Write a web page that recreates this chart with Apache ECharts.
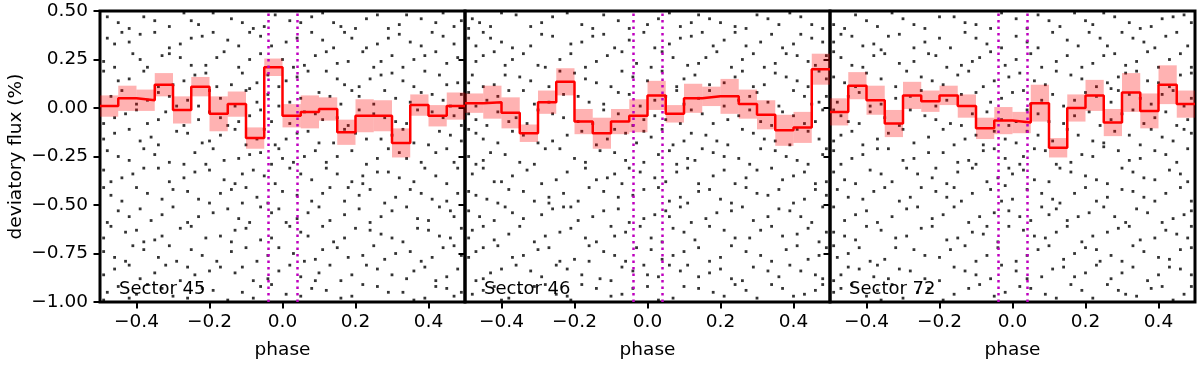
<!DOCTYPE html>
<html>
<head>
<meta charset="utf-8">
<script src="https://cdn.jsdelivr.net/npm/echarts@6/dist/echarts.min.js"></script>
<style>
  html, body { margin: 0; padding: 0; background: #fff; }
  #chart { width: 1200px; height: 365px; }
</style>
</head>
<body>
<div id="chart"></div>
<script>
// binned phase centres (20 bins of 0.05)
const phaseBins = [-0.475, -0.425, -0.375, -0.325, -0.275, -0.225, -0.175, -0.125, -0.075, -0.025,
  0.025, 0.075, 0.125, 0.175, 0.225, 0.275, 0.325, 0.375, 0.425, 0.475];

const sector45Flux = [0.01, 0.05, 0.04, 0.12, -0.01, 0.11, -0.03, 0.02, -0.155, 0.21,
  -0.04, -0.02, -0.005, -0.125, -0.04, -0.04, -0.18, 0.015, -0.04, 0.01];
const sector45Err = [0.055, 0.065, 0.055, 0.06, 0.07, 0.05, 0.09, 0.065, 0.055, 0.045,
  0.06, 0.085, 0.06, 0.065, 0.085, 0.08, 0.075, 0.055, 0.055, 0.07];

const sector46Flux = [0.025, 0.03, -0.025, -0.13, 0.03, 0.135, -0.07, -0.13, -0.07, -0.04,
  0.065, -0.03, 0.05, 0.06, 0.06, 0.02, -0.035, -0.115, -0.1, 0.2];
const sector46Err = [0.05, 0.085, 0.08, 0.045, 0.06, 0.07, 0.065, 0.08, 0.065, 0.085,
  0.075, 0.045, 0.075, 0.05, 0.09, 0.075, 0.075, 0.08, 0.08, 0.08];

const sector72Flux = [-0.02, 0.115, 0.04, -0.08, 0.065, 0.035, 0.065, 0.01, -0.105, -0.065,
  -0.075, 0.025, -0.205, 0.0, 0.065, -0.075, 0.08, -0.015, 0.12, 0.02];
const sector72Err = [0.07, 0.07, 0.075, 0.07, 0.07, 0.055, 0.05, 0.06, 0.055, 0.07,
  0.055, 0.095, 0.05, 0.07, 0.08, 0.07, 0.1, 0.09, 0.1, 0.07];

// unbinned points [phase, flux]
const sector45Dots = [
  [-0.48,0.47],[-0.42,0.41],[-0.35,0.45],[-0.27,0.49],[-0.23,0.43],[-0.14,0.46],[-0.08,0.41],[-0.02,0.48],[0.05,0.44],[0.11,0.49],[0.16,0.42],[0.23,0.46],[0.29,0.41],[0.34,0.48],[0.42,0.44],[0.47,0.42],
  [-0.46,0.33],[-0.39,0.38],[-0.31,0.31],[-0.25,0.36],[-0.19,0.39],[-0.12,0.32],[-0.06,0.37],[0.01,0.34],[0.08,0.39],[0.14,0.31],[0.19,0.36],[0.26,0.33],[0.32,0.38],[0.38,0.32],[0.44,0.37],[-0.44,0.39],
  [-0.49,0.24],[-0.41,0.28],[-0.37,0.21],[-0.28,0.26],[-0.21,0.22],[-0.16,0.29],[-0.09,0.25],[0.03,0.21],[0.09,0.27],[0.15,0.23],[0.22,0.29],[0.27,0.24],[0.33,0.21],[0.39,0.27],[0.45,0.23],[-0.33,0.27],
  [-0.45,0.14],[-0.38,0.19],[-0.3,0.12],[-0.24,0.17],[-0.18,0.11],[-0.11,0.18],[-0.07,0.13],[0.04,0.16],[0.12,0.19],[0.17,0.12],[0.24,0.15],[0.3,0.18],[0.36,0.11],[0.43,0.17],[0.48,0.13],[-0.01,0.11],
  [-0.47,0.06],[-0.4,0.02],[-0.34,0.08],[-0.26,0.04],[-0.2,0.09],[-0.13,0.01],[-0.04,0.07],[0.02,0.03],[0.1,0.08],[0.16,0.02],[0.21,0.06],[0.28,0.09],[0.35,0.03],[0.41,0.07],[0.46,0.01],[-0.29,0.01],
  [-0.43,-0.03],[-0.37,-0.08],[-0.32,-0.02],[-0.23,-0.06],[-0.15,-0.09],[-0.09,-0.04],[-0.03,-0.07],[0.06,-0.02],[0.11,-0.06],[0.18,-0.09],[0.25,-0.03],[0.31,-0.07],[0.37,-0.01],[0.44,-0.05],[-0.49,-0.08],[0.49,-0.09],
  [-0.46,-0.13],[-0.39,-0.17],[-0.29,-0.12],[-0.22,-0.18],[-0.17,-0.14],[-0.1,-0.19],[-0.05,-0.11],[0.01,-0.16],[0.07,-0.12],[0.14,-0.18],[0.2,-0.13],[0.27,-0.16],[0.33,-0.11],[0.4,-0.19],[0.46,-0.14],[-0.34,-0.19],
  [-0.48,-0.22],[-0.42,-0.27],[-0.35,-0.24],[-0.27,-0.29],[-0.19,-0.21],[-0.12,-0.26],[-0.06,-0.23],[0.03,-0.28],[0.09,-0.22],[0.15,-0.25],[0.23,-0.29],[0.29,-0.21],[0.34,-0.26],[0.42,-0.23],[0.47,-0.28],[-0.01,-0.21],
  [-0.44,-0.36],[-0.38,-0.31],[-0.31,-0.38],[-0.24,-0.33],[-0.16,-0.37],[-0.08,-0.32],[-0.02,-0.39],[0.05,-0.34],[0.12,-0.31],[0.19,-0.38],[0.26,-0.33],[0.32,-0.36],[0.39,-0.31],[0.45,-0.39],[-0.49,-0.32],[0.22,-0.35],
  [-0.47,-0.45],[-0.4,-0.41],[-0.33,-0.47],[-0.26,-0.43],[-0.2,-0.49],[-0.14,-0.42],[-0.07,-0.46],[0.0,-0.43],[0.08,-0.48],[0.13,-0.41],[0.21,-0.45],[0.28,-0.49],[0.35,-0.42],[0.41,-0.47],[0.48,-0.44],[-0.11,-0.49],
  [-0.45,-0.53],[-0.36,-0.58],[-0.3,-0.51],[-0.23,-0.56],[-0.15,-0.52],[-0.09,-0.59],[-0.03,-0.54],[0.04,-0.57],[0.1,-0.51],[0.17,-0.55],[0.24,-0.59],[0.3,-0.53],[0.37,-0.57],[0.43,-0.51],[-0.48,-0.59],[0.47,-0.56],
  [-0.43,-0.64],[-0.38,-0.69],[-0.28,-0.62],[-0.21,-0.67],[-0.13,-0.63],[-0.06,-0.68],[0.02,-0.61],[0.07,-0.66],[0.14,-0.69],[0.2,-0.62],[0.27,-0.65],[0.33,-0.69],[0.4,-0.63],[0.46,-0.67],[-0.47,-0.61],[-0.33,-0.66],
  [-0.49,-0.74],[-0.41,-0.71],[-0.34,-0.77],[-0.25,-0.73],[-0.18,-0.79],[-0.1,-0.72],[-0.04,-0.76],[0.06,-0.79],[0.11,-0.73],[0.18,-0.77],[0.25,-0.71],[0.31,-0.75],[0.38,-0.79],[0.44,-0.72],[-0.29,-0.79],[0.49,-0.76],
  [-0.46,-0.83],[-0.39,-0.88],[-0.32,-0.81],[-0.24,-0.86],[-0.17,-0.82],[-0.08,-0.89],[-0.01,-0.84],[0.05,-0.87],[0.13,-0.81],[0.19,-0.86],[0.26,-0.83],[0.34,-0.88],[0.39,-0.82],[0.45,-0.87],[-0.13,-0.85],[0.09,-0.89],
  [-0.48,-0.95],[-0.37,-0.91],[-0.3,-0.97],[-0.22,-0.93],[-0.15,-0.99],[-0.06,-0.92],[0.01,-0.96],[0.08,-0.93],[0.16,-0.98],[0.22,-0.91],[0.29,-0.95],[0.36,-0.99],[0.42,-0.92],[0.47,-0.97],[-0.42,-0.98],[-0.11,-0.95],
  [-0.45,0.44],[-0.38,0.47],[-0.31,0.42],[-0.25,0.45],[-0.19,0.49],[-0.11,0.44],[-0.05,0.42],[0.02,0.45],[0.08,0.47],[0.14,0.44],[0.2,0.41],[0.26,0.48],[0.32,0.43],[0.38,0.46],[0.44,0.49],[0.49,0.45],
  [-0.48,0.36],[-0.42,0.34],[-0.35,0.39],[-0.28,0.33],[-0.22,0.37],[-0.15,0.35],[-0.09,0.39],[-0.03,0.32],[0.04,0.36],[0.11,0.35],[0.17,0.39],[0.23,0.31],[0.29,0.36],[0.35,0.34],[0.41,0.39],[0.47,0.33],
  [-0.46,0.21],[-0.39,0.25],[-0.31,0.28],[-0.25,0.22],[-0.18,0.26],[-0.12,0.21],[-0.06,0.28],[0.0,0.25],[0.06,0.22],[0.12,0.29],[0.18,0.24],[0.25,0.21],[0.3,0.27],[0.36,0.25],[0.42,0.29],[0.48,0.26],
  [-0.49,0.19],[-0.42,0.15],[-0.34,0.11],[-0.27,0.14],[-0.21,0.18],[-0.14,0.12],[-0.04,0.17],[0.01,0.14],[0.07,0.19],[0.15,0.15],[0.21,0.11],[0.27,0.17],[0.33,0.14],[0.39,0.19],[0.45,0.12],[-0.09,0.1],
  [-0.44,0.09],[-0.37,0.04],[-0.31,0.06],[-0.23,0.01],[-0.17,0.05],[-0.1,0.09],[-0.07,0.03],[0.05,0.05],[0.13,0.06],[0.19,0.09],[0.25,0.02],[0.31,0.05],[0.38,0.08],[0.44,0.04],[0.49,0.07],[-0.01,0.01],
  [-0.46,-0.05],[-0.4,-0.01],[-0.34,-0.06],[-0.27,-0.09],[-0.2,-0.02],[-0.12,-0.07],[-0.06,-0.01],[0.02,-0.08],[0.09,-0.03],[0.15,-0.05],[0.21,-0.01],[0.28,-0.05],[0.34,-0.08],[0.41,-0.02],[0.47,-0.04],[-0.17,-0.05],
  [-0.49,-0.16],[-0.42,-0.11],[-0.36,-0.15],[-0.26,-0.13],[-0.2,-0.17],[-0.13,-0.11],[-0.07,-0.16],[0.04,-0.13],[0.1,-0.18],[0.17,-0.11],[0.23,-0.16],[0.3,-0.14],[0.36,-0.18],[0.43,-0.12],[0.49,-0.17],[-0.02,-0.19],
  [-0.45,-0.25],[-0.38,-0.21],[-0.31,-0.28],[-0.24,-0.23],[-0.16,-0.27],[-0.09,-0.24],[-0.03,-0.29],[0.06,-0.25],[0.12,-0.28],[0.19,-0.22],[0.26,-0.26],[0.32,-0.23],[0.38,-0.28],[0.45,-0.21],[-0.21,-0.29],[0.0,-0.26],
  [-0.47,-0.38],[-0.41,-0.34],[-0.34,-0.31],[-0.27,-0.36],[-0.2,-0.32],[-0.13,-0.39],[-0.05,-0.35],[0.02,-0.31],[0.08,-0.37],[0.15,-0.34],[0.22,-0.39],[0.29,-0.33],[0.36,-0.38],[0.42,-0.35],[0.48,-0.31],[-0.11,-0.34],
  [-0.44,-0.48],[-0.37,-0.44],[-0.3,-0.42],[-0.23,-0.47],[-0.17,-0.44],[-0.1,-0.41],[-0.04,-0.49],[0.04,-0.45],[0.11,-0.44],[0.17,-0.48],[0.24,-0.42],[0.31,-0.46],[0.38,-0.44],[0.45,-0.48],[-0.49,-0.41],[0.18,-0.41],
  [-0.42,-0.56],[-0.39,-0.52],[-0.33,-0.55],[-0.26,-0.59],[-0.19,-0.54],[-0.12,-0.57],[-0.06,-0.51],[0.01,-0.59],[0.07,-0.54],[0.13,-0.58],[0.21,-0.52],[0.27,-0.56],[0.34,-0.51],[0.4,-0.58],[0.46,-0.53],[-0.01,-0.52],
  [-0.49,-0.67],[-0.4,-0.63],[-0.35,-0.68],[-0.25,-0.61],[-0.17,-0.66],[-0.1,-0.62],[-0.03,-0.67],[0.05,-0.64],[0.11,-0.61],[0.17,-0.67],[0.24,-0.63],[0.3,-0.67],[0.37,-0.62],[0.43,-0.66],[0.49,-0.62],[-0.14,-0.69],
  [-0.46,-0.77],[-0.38,-0.73],[-0.31,-0.71],[-0.22,-0.76],[-0.14,-0.74],[-0.07,-0.79],[-0.01,-0.72],[0.03,-0.75],[0.09,-0.78],[0.15,-0.72],[0.22,-0.76],[0.28,-0.78],[0.35,-0.74],[0.41,-0.77],[0.47,-0.71],[-0.43,-0.79],
  [-0.49,-0.86],[-0.42,-0.81],[-0.35,-0.85],[-0.28,-0.89],[-0.2,-0.84],[-0.11,-0.82],[-0.04,-0.88],[0.02,-0.81],[0.1,-0.85],[0.16,-0.89],[0.23,-0.81],[0.3,-0.86],[0.36,-0.84],[0.42,-0.89],[0.48,-0.83],[-0.26,-0.82],
  [-0.45,-0.92],[-0.4,-0.96],[-0.33,-0.93],[-0.26,-0.98],[-0.19,-0.94],[-0.08,-0.98],[-0.03,-0.91],[0.05,-0.97],[0.12,-0.94],[0.19,-0.97],[0.26,-0.92],[0.33,-0.95],[0.39,-0.98],[0.45,-0.93],[-0.49,-0.99],[0.49,-0.95]
];
const sector46Dots = [
  [-0.46,0.44],[-0.4,0.49],[-0.32,0.42],[-0.26,0.47],[-0.18,0.43],[-0.12,0.48],[-0.05,0.41],[0.03,0.46],[0.09,0.42],[0.14,0.48],[0.2,0.44],[0.27,0.41],[0.33,0.46],[0.39,0.49],[0.45,0.43],[-0.49,0.41],
  [-0.43,0.36],[-0.37,0.31],[-0.29,0.38],[-0.21,0.33],[-0.15,0.37],[-0.09,0.31],[-0.01,0.39],[0.06,0.33],[0.12,0.37],[0.18,0.32],[0.24,0.39],[0.31,0.34],[0.37,0.31],[0.42,0.38],[0.48,0.34],[-0.47,0.32],
  [-0.45,0.27],[-0.39,0.22],[-0.34,0.28],[-0.24,0.25],[-0.17,0.21],[-0.11,0.27],[-0.03,0.23],[0.04,0.29],[0.11,0.22],[0.16,0.26],[0.23,0.21],[0.29,0.28],[0.35,0.23],[0.41,0.27],[0.46,0.22],[-0.28,0.21],
  [-0.48,0.17],[-0.42,0.12],[-0.35,0.16],[-0.27,0.11],[-0.2,0.18],[-0.14,0.13],[-0.07,0.19],[0.0,0.14],[0.08,0.11],[0.13,0.17],[0.21,0.13],[0.26,0.19],[0.32,0.12],[0.38,0.16],[0.44,0.11],[0.49,0.15],
  [-0.44,0.04],[-0.38,0.09],[-0.31,0.02],[-0.23,0.07],[-0.16,0.03],[-0.08,0.08],[-0.02,0.01],[0.05,0.06],[0.1,0.02],[0.17,0.09],[0.25,0.04],[0.3,0.08],[0.36,0.01],[0.43,0.06],[-0.49,0.08],[0.47,0.03],
  [-0.47,-0.06],[-0.41,-0.02],[-0.33,-0.08],[-0.26,-0.03],[-0.19,-0.07],[-0.12,-0.01],[-0.04,-0.09],[0.02,-0.04],[0.09,-0.08],[0.15,-0.03],[0.22,-0.06],[0.28,-0.01],[0.34,-0.09],[0.4,-0.04],[0.46,-0.07],[-0.36,-0.05],
  [-0.45,-0.16],[-0.37,-0.12],[-0.3,-0.18],[-0.22,-0.14],[-0.14,-0.19],[-0.09,-0.11],[0.01,-0.15],[0.07,-0.19],[0.12,-0.13],[0.19,-0.17],[0.26,-0.11],[0.32,-0.16],[0.39,-0.19],[0.44,-0.12],[-0.49,-0.11],[-0.03,-0.18],
  [-0.43,-0.23],[-0.35,-0.28],[-0.28,-0.21],[-0.2,-0.26],[-0.13,-0.22],[-0.06,-0.27],[0.03,-0.24],[0.08,-0.29],[0.15,-0.21],[0.21,-0.25],[0.28,-0.29],[0.35,-0.22],[0.41,-0.27],[0.48,-0.24],[-0.47,-0.29],[0.11,-0.26],
  [-0.48,-0.34],[-0.4,-0.38],[-0.33,-0.32],[-0.25,-0.37],[-0.17,-0.31],[-0.11,-0.36],[-0.02,-0.33],[0.05,-0.38],[0.11,-0.31],[0.18,-0.35],[0.24,-0.39],[0.3,-0.32],[0.37,-0.37],[0.43,-0.33],[-0.07,-0.39],[0.49,-0.38],
  [-0.44,-0.47],[-0.38,-0.42],[-0.31,-0.48],[-0.23,-0.44],[-0.16,-0.41],[-0.08,-0.46],[-0.01,-0.42],[0.06,-0.48],[0.14,-0.43],[0.2,-0.47],[0.27,-0.41],[0.33,-0.45],[0.4,-0.49],[0.46,-0.42],[-0.49,-0.43],[-0.27,-0.49],
  [-0.46,-0.56],[-0.39,-0.51],[-0.34,-0.57],[-0.26,-0.52],[-0.19,-0.58],[-0.12,-0.53],[-0.05,-0.59],[0.02,-0.55],[0.09,-0.51],[0.16,-0.57],[0.23,-0.53],[0.29,-0.58],[0.36,-0.52],[0.42,-0.56],[0.48,-0.51],[-0.21,-0.51],
  [-0.48,-0.63],[-0.42,-0.68],[-0.35,-0.61],[-0.28,-0.66],[-0.21,-0.62],[-0.14,-0.69],[-0.06,-0.64],[0.01,-0.67],[0.07,-0.62],[0.13,-0.68],[0.21,-0.63],[0.28,-0.67],[0.34,-0.61],[0.41,-0.65],[0.47,-0.69],[-0.1,-0.61],
  [-0.45,-0.72],[-0.37,-0.77],[-0.3,-0.73],[-0.24,-0.79],[-0.16,-0.71],[-0.09,-0.76],[-0.03,-0.72],[0.04,-0.78],[0.1,-0.74],[0.17,-0.79],[0.23,-0.71],[0.31,-0.76],[0.38,-0.73],[0.44,-0.78],[-0.49,-0.77],[0.49,-0.72],
  [-0.43,-0.85],[-0.36,-0.81],[-0.29,-0.87],[-0.22,-0.83],[-0.13,-0.88],[-0.07,-0.82],[0.0,-0.86],[0.06,-0.81],[0.14,-0.87],[0.2,-0.83],[0.26,-0.89],[0.33,-0.84],[0.39,-0.81],[0.46,-0.86],[-0.47,-0.89],[0.09,-0.84],
  [-0.45,-0.94],[-0.38,-0.98],[-0.31,-0.92],[-0.25,-0.96],[-0.18,-0.91],[-0.1,-0.97],[-0.04,-0.93],[0.03,-0.99],[0.1,-0.92],[0.18,-0.95],[0.24,-0.91],[0.3,-0.98],[0.37,-0.93],[0.43,-0.96],[0.48,-0.91],[-0.21,-0.99],
  [-0.48,0.46],[-0.43,0.42],[-0.36,0.48],[-0.29,0.44],[-0.22,0.49],[-0.15,0.41],[-0.08,0.45],[0.0,0.43],[0.06,0.49],[0.12,0.44],[0.17,0.46],[0.24,0.42],[0.3,0.48],[0.36,0.43],[0.42,0.47],[0.48,0.41],
  [-0.45,0.39],[-0.4,0.34],[-0.32,0.32],[-0.26,0.37],[-0.18,0.34],[-0.12,0.38],[-0.05,0.35],[0.02,0.31],[0.09,0.36],[0.15,0.39],[0.21,0.35],[0.27,0.32],[0.34,0.38],[0.4,0.33],[0.45,0.36],[-0.49,0.36],
  [-0.47,0.24],[-0.42,0.29],[-0.37,0.25],[-0.3,0.22],[-0.21,0.28],[-0.14,0.24],[-0.07,0.29],[0.01,0.21],[0.07,0.26],[0.14,0.23],[0.19,0.29],[0.26,0.25],[0.32,0.21],[0.38,0.28],[0.44,0.24],[0.49,0.27],
  [-0.45,0.11],[-0.39,0.17],[-0.32,0.14],[-0.24,0.19],[-0.17,0.15],[-0.1,0.11],[-0.04,0.16],[0.04,0.19],[0.1,0.15],[0.17,0.12],[0.24,0.16],[0.29,0.11],[0.35,0.18],[0.41,0.14],[0.47,0.19],[-0.49,0.13],
  [-0.47,0.01],[-0.41,0.06],[-0.34,0.09],[-0.27,0.03],[-0.19,0.06],[-0.12,0.02],[-0.05,0.07],[0.02,0.04],[0.08,0.09],[0.14,0.05],[0.21,0.01],[0.28,0.06],[0.33,0.03],[0.4,0.09],[0.45,0.02],[0.49,0.06],
  [-0.49,-0.03],[-0.44,-0.09],[-0.38,-0.07],[-0.3,-0.01],[-0.23,-0.05],[-0.15,-0.08],[-0.08,-0.03],[0.05,-0.06],[0.12,-0.01],[0.18,-0.08],[0.25,-0.04],[0.31,-0.07],[0.37,-0.02],[0.43,-0.08],[0.48,-0.01],[-0.01,-0.06],
  [-0.47,-0.13],[-0.41,-0.18],[-0.34,-0.14],[-0.26,-0.17],[-0.18,-0.12],[-0.11,-0.16],[-0.06,-0.13],[0.04,-0.11],[0.1,-0.17],[0.16,-0.14],[0.22,-0.19],[0.29,-0.13],[0.35,-0.17],[0.41,-0.11],[0.47,-0.16],[-0.01,-0.12],
  [-0.45,-0.27],[-0.39,-0.24],[-0.31,-0.29],[-0.24,-0.21],[-0.17,-0.28],[-0.09,-0.23],[-0.01,-0.28],[0.06,-0.22],[0.13,-0.27],[0.18,-0.23],[0.25,-0.26],[0.31,-0.21],[0.38,-0.25],[0.44,-0.29],[-0.49,-0.25],[0.49,-0.21],
  [-0.45,-0.31],[-0.37,-0.35],[-0.29,-0.39],[-0.22,-0.33],[-0.14,-0.37],[-0.05,-0.31],[0.02,-0.36],[0.08,-0.33],[0.14,-0.39],[0.21,-0.32],[0.27,-0.36],[0.34,-0.31],[0.4,-0.35],[0.46,-0.39],[-0.42,-0.38],[-0.09,-0.34],
  [-0.47,-0.45],[-0.41,-0.49],[-0.34,-0.43],[-0.27,-0.46],[-0.19,-0.48],[-0.12,-0.43],[-0.04,-0.45],[0.03,-0.41],[0.09,-0.46],[0.17,-0.42],[0.23,-0.49],[0.3,-0.44],[0.36,-0.42],[0.43,-0.47],[0.49,-0.45],[0.11,-0.49],
  [-0.49,-0.53],[-0.42,-0.58],[-0.37,-0.54],[-0.29,-0.55],[-0.23,-0.51],[-0.15,-0.56],[-0.08,-0.52],[-0.01,-0.57],[0.05,-0.53],[0.12,-0.59],[0.19,-0.54],[0.26,-0.51],[0.33,-0.56],[0.39,-0.53],[0.45,-0.59],[0.06,-0.56],
  [-0.45,-0.61],[-0.38,-0.65],[-0.31,-0.69],[-0.24,-0.64],[-0.17,-0.67],[-0.09,-0.66],[-0.02,-0.61],[0.04,-0.69],[0.1,-0.64],[0.17,-0.61],[0.24,-0.67],[0.31,-0.63],[0.37,-0.66],[0.44,-0.62],[-0.49,-0.67],[0.49,-0.64],
  [-0.47,-0.74],[-0.41,-0.71],[-0.34,-0.76],[-0.27,-0.72],[-0.2,-0.78],[-0.12,-0.74],[-0.06,-0.79],[0.01,-0.73],[0.07,-0.76],[0.14,-0.72],[0.2,-0.77],[0.27,-0.74],[0.34,-0.79],[0.41,-0.71],[0.47,-0.76],[-0.16,-0.79],
  [-0.45,-0.88],[-0.4,-0.83],[-0.32,-0.84],[-0.25,-0.81],[-0.18,-0.86],[-0.1,-0.89],[-0.04,-0.84],[0.03,-0.87],[0.11,-0.81],[0.17,-0.85],[0.23,-0.88],[0.29,-0.82],[0.36,-0.87],[0.42,-0.84],[0.48,-0.88],[-0.01,-0.81],
  [-0.48,-0.96],[-0.42,-0.92],[-0.35,-0.95],[-0.28,-0.91],[-0.22,-0.97],[-0.14,-0.93],[-0.07,-0.96],[0.0,-0.92],[0.07,-0.98],[0.14,-0.93],[0.21,-0.97],[0.27,-0.94],[0.34,-0.91],[0.4,-0.97],[0.46,-0.94],[-0.4,-0.99]
];
const sector72Dots = [
  [-0.49,0.43],[-0.43,0.48],[-0.37,0.42],[-0.3,0.46],[-0.24,0.41],[-0.16,0.47],[-0.1,0.43],[-0.03,0.49],[0.04,0.41],[0.1,0.45],[0.17,0.49],[0.22,0.43],[0.28,0.47],[0.35,0.41],[0.41,0.46],[0.47,0.48],
  [-0.47,0.38],[-0.41,0.32],[-0.34,0.37],[-0.27,0.31],[-0.2,0.36],[-0.13,0.39],[-0.07,0.33],[0.01,0.37],[0.07,0.31],[0.15,0.35],[0.21,0.39],[0.26,0.32],[0.33,0.36],[0.39,0.31],[0.45,0.39],[-0.36,0.3],
  [-0.44,0.22],[-0.38,0.27],[-0.31,0.23],[-0.23,0.28],[-0.18,0.21],[-0.09,0.26],[-0.02,0.22],[0.05,0.28],[0.12,0.24],[0.19,0.21],[0.25,0.27],[0.31,0.22],[0.37,0.29],[0.43,0.25],[0.49,0.21],[-0.49,0.29],
  [-0.46,0.13],[-0.4,0.18],[-0.32,0.11],[-0.25,0.16],[-0.19,0.12],[-0.12,0.19],[-0.05,0.14],[0.02,0.18],[0.09,0.12],[0.16,0.17],[0.23,0.11],[0.29,0.16],[0.34,0.19],[0.4,0.13],[0.46,0.17],[0.27,0.1],
  [-0.48,0.03],[-0.42,0.08],[-0.36,0.02],[-0.28,0.06],[-0.21,0.01],[-0.14,0.07],[-0.06,0.03],[0.03,0.09],[0.08,0.04],[0.14,0.01],[0.2,0.08],[0.27,0.03],[0.32,0.07],[0.38,0.02],[0.44,0.09],[0.49,0.05],
  [-0.45,-0.07],[-0.39,-0.02],[-0.31,-0.09],[-0.24,-0.04],[-0.17,-0.08],[-0.11,-0.03],[-0.03,-0.06],[0.04,-0.01],[0.1,-0.07],[0.17,-0.04],[0.24,-0.09],[0.3,-0.03],[0.36,-0.08],[0.42,-0.02],[0.48,-0.06],[-0.49,-0.01],
  [-0.47,-0.14],[-0.41,-0.19],[-0.34,-0.13],[-0.27,-0.18],[-0.19,-0.11],[-0.13,-0.16],[-0.05,-0.12],[0.01,-0.18],[0.07,-0.14],[0.15,-0.11],[0.22,-0.17],[0.28,-0.12],[0.35,-0.19],[0.41,-0.15],[0.47,-0.11],[-0.08,-0.19],
  [-0.44,-0.26],[-0.37,-0.21],[-0.3,-0.27],[-0.23,-0.23],[-0.15,-0.28],[-0.08,-0.22],[-0.02,-0.26],[0.06,-0.21],[0.12,-0.29],[0.19,-0.24],[0.25,-0.2],[0.32,-0.27],[0.39,-0.22],[0.45,-0.28],[-0.49,-0.22],[0.02,-0.29],
  [-0.46,-0.37],[-0.39,-0.32],[-0.33,-0.38],[-0.26,-0.34],[-0.18,-0.39],[-0.11,-0.31],[-0.04,-0.36],[0.03,-0.32],[0.1,-0.38],[0.16,-0.33],[0.23,-0.37],[0.3,-0.31],[0.36,-0.36],[0.43,-0.32],[0.48,-0.38],[-0.21,-0.31],
  [-0.48,-0.42],[-0.41,-0.47],[-0.35,-0.41],[-0.28,-0.46],[-0.21,-0.43],[-0.14,-0.48],[-0.06,-0.42],[0.0,-0.47],[0.08,-0.44],[0.13,-0.49],[0.2,-0.41],[0.26,-0.46],[0.33,-0.43],[0.39,-0.48],[0.46,-0.41],[-0.02,-0.4],
  [-0.43,-0.55],[-0.37,-0.59],[-0.29,-0.52],[-0.22,-0.57],[-0.16,-0.51],[-0.09,-0.56],[-0.01,-0.53],[0.05,-0.58],[0.12,-0.52],[0.18,-0.56],[0.25,-0.51],[0.31,-0.59],[0.37,-0.54],[0.44,-0.57],[-0.49,-0.51],[0.49,-0.53],
  [-0.46,-0.66],[-0.4,-0.61],[-0.32,-0.67],[-0.25,-0.62],[-0.18,-0.68],[-0.11,-0.64],[-0.04,-0.69],[0.03,-0.63],[0.09,-0.67],[0.15,-0.61],[0.22,-0.66],[0.29,-0.62],[0.35,-0.68],[0.42,-0.63],[0.48,-0.67],[-0.07,-0.61],
  [-0.48,-0.77],[-0.42,-0.72],[-0.35,-0.78],[-0.27,-0.73],[-0.2,-0.77],[-0.13,-0.71],[-0.07,-0.76],[0.01,-0.79],[0.07,-0.73],[0.14,-0.78],[0.2,-0.72],[0.27,-0.76],[0.33,-0.71],[0.4,-0.77],[0.46,-0.73],[0.24,-0.79],
  [-0.45,-0.82],[-0.38,-0.87],[-0.31,-0.83],[-0.24,-0.88],[-0.16,-0.82],[-0.1,-0.86],[-0.03,-0.81],[0.04,-0.88],[0.11,-0.83],[0.17,-0.87],[0.23,-0.81],[0.3,-0.85],[0.37,-0.89],[0.43,-0.82],[0.49,-0.86],[-0.49,-0.89],
  [-0.47,-0.93],[-0.4,-0.97],[-0.33,-0.91],[-0.26,-0.95],[-0.19,-0.99],[-0.12,-0.93],[-0.05,-0.97],[0.02,-0.92],[0.09,-0.96],[0.16,-0.91],[0.22,-0.98],[0.29,-0.94],[0.34,-0.97],[0.41,-0.92],[0.47,-0.96],[-0.36,-0.99],
  [-0.46,0.41],[-0.4,0.45],[-0.33,0.49],[-0.27,0.43],[-0.2,0.47],[-0.13,0.44],[-0.06,0.41],[0.01,0.46],[0.07,0.48],[0.13,0.42],[0.2,0.45],[0.25,0.49],[0.32,0.44],[0.38,0.42],[0.44,0.47],[0.49,0.44],
  [-0.49,0.34],[-0.44,0.37],[-0.38,0.33],[-0.31,0.38],[-0.24,0.34],[-0.17,0.31],[-0.1,0.36],[-0.03,0.31],[0.04,0.34],[0.11,0.39],[0.18,0.32],[0.24,0.36],[0.3,0.39],[0.36,0.34],[0.42,0.37],[0.48,0.32],
  [-0.47,0.26],[-0.41,0.21],[-0.35,0.28],[-0.27,0.24],[-0.21,0.27],[-0.14,0.22],[-0.06,0.29],[0.01,0.25],[0.08,0.21],[0.15,0.27],[0.22,0.23],[0.28,0.28],[0.34,0.24],[0.4,0.21],[0.46,0.28],[-0.11,0.24],
  [-0.49,0.16],[-0.43,0.11],[-0.36,0.15],[-0.29,0.19],[-0.22,0.14],[-0.15,0.17],[-0.08,0.11],[-0.01,0.16],[0.06,0.14],[0.12,0.19],[0.19,0.15],[0.26,0.13],[0.31,0.18],[0.37,0.14],[0.43,0.11],[0.49,0.18],
  [-0.45,0.06],[-0.39,0.01],[-0.32,0.05],[-0.25,0.09],[-0.18,0.04],[-0.1,0.08],[-0.03,0.05],[0.05,0.02],[0.11,0.07],[0.17,0.04],[0.23,0.06],[0.29,0.09],[0.35,0.05],[0.41,0.07],[0.47,0.01],[0.0,0.08],
  [-0.47,-0.04],[-0.42,-0.08],[-0.35,-0.05],[-0.28,-0.01],[-0.21,-0.06],[-0.14,-0.09],[-0.07,-0.02],[0.01,-0.07],[0.07,-0.03],[0.14,-0.08],[0.21,-0.02],[0.27,-0.06],[0.33,-0.01],[0.39,-0.05],[0.45,-0.09],[-0.01,-0.09],
  [-0.49,-0.17],[-0.44,-0.12],[-0.37,-0.16],[-0.3,-0.11],[-0.23,-0.15],[-0.16,-0.19],[-0.1,-0.14],[-0.02,-0.16],[0.04,-0.12],[0.11,-0.17],[0.18,-0.14],[0.25,-0.18],[0.32,-0.14],[0.38,-0.11],[0.44,-0.17],[0.49,-0.13],
  [-0.47,-0.29],[-0.41,-0.24],[-0.34,-0.21],[-0.27,-0.26],[-0.19,-0.23],[-0.12,-0.27],[-0.05,-0.21],[0.03,-0.25],[0.09,-0.22],[0.16,-0.28],[0.22,-0.25],[0.29,-0.22],[0.35,-0.26],[0.42,-0.24],[0.48,-0.21],[-0.1,-0.29],
  [-0.49,-0.33],[-0.43,-0.39],[-0.36,-0.34],[-0.29,-0.31],[-0.22,-0.36],[-0.15,-0.33],[-0.07,-0.38],[0.0,-0.34],[0.06,-0.37],[0.13,-0.31],[0.2,-0.35],[0.26,-0.39],[0.33,-0.33],[0.39,-0.37],[0.46,-0.34],[-0.01,-0.31],
  [-0.45,-0.46],[-0.38,-0.43],[-0.31,-0.48],[-0.25,-0.41],[-0.18,-0.46],[-0.11,-0.44],[-0.03,-0.48],[0.04,-0.42],[0.11,-0.47],[0.17,-0.44],[0.23,-0.48],[0.3,-0.42],[0.36,-0.46],[0.42,-0.44],[0.49,-0.48],[-0.16,-0.41],
  [-0.46,-0.58],[-0.4,-0.53],[-0.33,-0.56],[-0.26,-0.51],[-0.19,-0.55],[-0.12,-0.59],[-0.05,-0.54],[0.02,-0.56],[0.08,-0.51],[0.15,-0.58],[0.21,-0.54],[0.28,-0.56],[0.34,-0.52],[0.41,-0.59],[0.47,-0.55],[0.1,-0.55],
  [-0.49,-0.64],[-0.43,-0.68],[-0.36,-0.63],[-0.29,-0.66],[-0.22,-0.61],[-0.15,-0.67],[-0.08,-0.65],[-0.01,-0.61],[0.06,-0.66],[0.12,-0.64],[0.19,-0.69],[0.26,-0.64],[0.32,-0.61],[0.39,-0.67],[0.45,-0.65],[0.49,-0.61],
  [-0.45,-0.75],[-0.39,-0.79],[-0.32,-0.72],[-0.24,-0.76],[-0.17,-0.73],[-0.1,-0.79],[-0.04,-0.72],[0.04,-0.76],[0.1,-0.71],[0.17,-0.75],[0.23,-0.73],[0.3,-0.79],[0.36,-0.74],[0.43,-0.78],[0.49,-0.72],[-0.49,-0.71],
  [-0.47,-0.86],[-0.42,-0.83],[-0.34,-0.88],[-0.28,-0.84],[-0.2,-0.89],[-0.13,-0.84],[-0.06,-0.88],[0.01,-0.84],[0.08,-0.87],[0.14,-0.82],[0.2,-0.85],[0.27,-0.88],[0.33,-0.82],[0.4,-0.86],[0.46,-0.83],[-0.37,-0.81],
  [-0.49,-0.95],[-0.44,-0.91],[-0.37,-0.94],[-0.3,-0.98],[-0.23,-0.93],[-0.16,-0.96],[-0.09,-0.91],[-0.02,-0.95],[0.05,-0.93],[0.12,-0.98],[0.19,-0.94],[0.26,-0.91],[0.31,-0.96],[0.38,-0.93],[0.44,-0.99],[0.49,-0.92]
];

const xTicks = [-0.4, -0.2, 0, 0.2, 0.4];
const transitEdges = [-0.043, 0.043];

const panels = [
  { name: 'Sector 45', flux: sector45Flux, err: sector45Err, dots: sector45Dots },
  { name: 'Sector 46', flux: sector46Flux, err: sector46Err, dots: sector46Dots },
  { name: 'Sector 72', flux: sector72Flux, err: sector72Err, dots: sector72Dots }
];

const FONT = 'DejaVu Sans';
const FS = 18.5;
const binWidth = 0.05;
const gridLeft = [100, 465, 830];

const chart = echarts.init(document.getElementById('chart'));
const grid = [], xAxis = [], yAxis = [], series = [], graphic = [];

panels.forEach((p, i) => {
  grid.push({
    left: gridLeft[i], top: 11, width: 365, height: 294,
    show: true, borderColor: '#000', borderWidth: 3, backgroundColor: 'transparent'
  });
  xAxis.push({
    type: 'value', gridIndex: i, min: -0.5, max: 0.5,
    name: 'phase', nameLocation: 'middle', nameGap: 39,
    nameTextStyle: { fontFamily: FONT, fontSize: FS, color: '#000' },
    splitLine: { show: false },
    axisLine: { show: false, onZero: false },
    axisTick: { show: true, length: 6.5, customValues: xTicks, lineStyle: { color: '#000', width: 2 } },
    axisLabel: {
      customValues: xTicks, margin: 11, fontFamily: FONT, fontSize: FS, color: '#000',
      formatter: v => (v < 0 ? '\u2212' : '') + Math.abs(v).toFixed(1)
    }
  });
  yAxis.push({
    type: 'value', gridIndex: i, min: -1, max: 0.5, interval: 0.25,
    name: i === 0 ? 'deviatory flux (%)' : '', nameLocation: 'middle', nameGap: 74,
    nameTextStyle: { fontFamily: FONT, fontSize: FS, color: '#000' },
    splitLine: { show: false },
    axisLine: { show: false, onZero: false },
    axisTick: { show: true, length: 6.5, lineStyle: { color: '#000', width: 2 } },
    axisLabel: {
      show: i === 0, margin: 12, fontFamily: FONT, fontSize: FS, color: '#000',
      formatter: v => (v < 0 ? '\u2212' : '') + Math.abs(v).toFixed(2)
    }
  });

  series.push({
    type: 'scatter', xAxisIndex: i, yAxisIndex: i, z: 2,
    symbol: 'rect', symbolSize: 2.8, itemStyle: { color: '#000' }, silent: true,
    data: p.dots
  });

  // error band per bin
  series.push({
    type: 'custom', xAxisIndex: i, yAxisIndex: i, z: 3, silent: true,
    data: phaseBins.map((c, k) => [c, p.flux[k], p.err[k]]),
    encode: { x: 0, y: 1 },
    renderItem: (params, api) => {
      const c = api.value(0), v = api.value(1), e = api.value(2);
      const a = api.coord([c - binWidth / 2, v + e]);
      const b = api.coord([c + binWidth / 2, v - e]);
      return {
        type: 'rect',
        shape: { x: a[0], y: a[1], width: b[0] - a[0], height: b[1] - a[1] },
        style: { fill: 'rgba(255,0,0,0.3)' }
      };
    }
  });

  const stepData = phaseBins.map((c, k) => [c - binWidth / 2, p.flux[k]]);
  stepData.push([phaseBins[phaseBins.length - 1] + binWidth / 2, p.flux[p.flux.length - 1]]);
  series.push({
    type: 'line', xAxisIndex: i, yAxisIndex: i, z: 4, step: 'end',
    showSymbol: false, silent: true,
    lineStyle: { color: '#ff0000', width: 2.5 },
    data: stepData,
    markLine: {
      symbol: 'none', silent: true, label: { show: false },
      lineStyle: { color: '#bf00bf', width: 2.5, type: [2.5, 4] },
      data: transitEdges.map(x => ({ xAxis: x }))
    }
  });

  graphic.push({
    type: 'text', left: gridLeft[i] + 19, top: 280, z: 10,
    style: { text: p.name, font: FS - 0.5 + 'px "DejaVu Sans"', fill: '#000' }
  });
});

chart.setOption({
  animation: false,
  backgroundColor: '#fff',
  grid, xAxis, yAxis, series, graphic
});
</script>
</body>
</html>
